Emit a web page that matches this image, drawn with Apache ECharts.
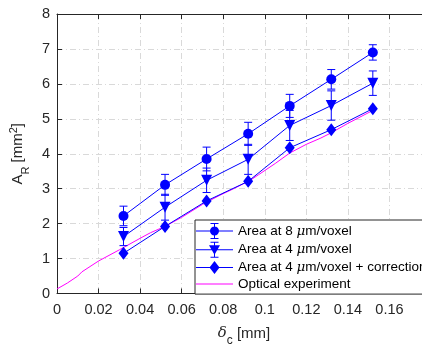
<!DOCTYPE html>
<html>
<head>
<meta charset="utf-8">
<script src="https://cdn.jsdelivr.net/npm/echarts@6/dist/echarts.min.js"></script>
<style>html,body{margin:0;padding:0;background:#fff}#c{width:422px;height:347px}</style>
</head>
<body>
<div id="c"></div>
<script>
// ---- data ----
const xVals = [0.032, 0.052, 0.072, 0.092, 0.112, 0.132, 0.152];
const area8 = [2.22, 3.11, 3.85, 4.57, 5.37, 6.13, 6.90];
const err8 = [0.28, 0.30, 0.34, 0.33, 0.33, 0.28, 0.22];
const area4 = [1.63, 2.47, 3.24, 3.84, 4.81, 5.38, 6.02];
const err4 = [0.26, 0.37, 0.35, 0.43, 0.43, 0.42, 0.35];
const area4c = [1.15, 1.92, 2.65, 3.21, 4.17, 4.69, 5.29];
const opticalX = [0, 0.005, 0.01, 0.012, 0.02, 0.03, 0.04, 0.045, 0.052, 0.06, 0.07, 0.078, 0.085, 0.093, 0.097, 0.105, 0.112, 0.12, 0.127, 0.132, 0.14, 0.152];
const opticalY = [0.13, 0.30, 0.50, 0.62, 0.93, 1.25, 1.58, 1.74, 1.92, 2.18, 2.55, 2.80, 3.00, 3.24, 3.40, 3.72, 4.02, 4.27, 4.45, 4.60, 4.87, 5.24];
const xTickLabels = ['0', '0.02', '0.04', '0.06', '0.08', '0.1', '0.12', '0.14', '0.16'];
const yTickLabels = ['0', '1', '2', '3', '4', '5', '6', '7', '8'];
const seriesNames = ['Area at 8 \u03bcm/voxel', 'Area at 4 \u03bcm/voxel', 'Area at 4 \u03bcm/voxel + correction', 'Optical experiment'];

const BLUE = '#0000ff', MAG = '#ff00ff', AX = '#262626';
const FONT = 'Liberation Sans, Arial, Helvetica, sans-serif';
const seriesColors = [BLUE, BLUE, BLUE, MAG];

function errData(vals, errs) { return xVals.map((x, i) => [x, vals[i] - errs[i], vals[i] + errs[i]]); }
function lineData(vals) { return xVals.map((x, i) => [x, vals[i]]); }

function renderErr(params, api) {
  const x = api.value(0), lo = api.value(1), hi = api.value(2);
  const pt = api.coord([x, hi]), pb = api.coord([x, lo]);
  const w = 4;
  const st = { stroke: BLUE, lineWidth: 1 };
  return { type: 'group', children: [
    { type: 'line', shape: { x1: pt[0], y1: pt[1], x2: pb[0], y2: pb[1] }, style: st },
    { type: 'line', shape: { x1: pt[0] - w, y1: pt[1], x2: pt[0] + w, y2: pt[1] }, style: st },
    { type: 'line', shape: { x1: pb[0] - w, y1: pb[1], x2: pb[0] + w, y2: pb[1] }, style: st }
  ]};
}

const lineRect = 'M0 7.5H37V8.5H0Z';
const errBar = 'M18 0H19V16H18Z M14.5 0H22.5V1H14.5Z M14.5 15H22.5V16H14.5Z';
const icons = [
  'path://' + lineRect + ' ' + errBar + ' M14 8A4.5 4.5 0 1 1 23 8A4.5 4.5 0 1 1 14 8Z',
  'path://' + lineRect + ' ' + errBar + ' M13 3.5H24L18.5 13Z',
  'path://' + lineRect + ' M18.5 1.5L23.5 8L18.5 14.5L13.5 8Z',
  'path://' + lineRect
];

const legendText = n => n.replace('\u03bc', '{i|\u03bc}');
const chart = echarts.init(document.getElementById('c'));
chart.setOption({
  animation: false,
  backgroundColor: '#fff',
  grid: { left: 57, top: 14, width: 374, height: 279.5, show: false, containLabel: false, outerBoundsMode: 'none' },
  xAxis: [{
    type: 'value', min: 0, max: 0.18, interval: 0.02, position: 'bottom',
    axisLine: { show: true, lineStyle: { color: AX, width: 1 } },
    axisTick: { show: true, inside: true, length: 5, lineStyle: { color: AX } },
    axisLabel: { color: AX, fontSize: 14.5, fontFamily: FONT, margin: 9,
      formatter: v => xTickLabels[Math.round(v / 0.02)] || '' },
    splitLine: { show: true, lineStyle: { color: '#d9d9d9', width: 1, type: [6, 3, 1, 3] } },
    name: '{i|\u03b4}{s|c}{n| [mm]}', nameLocation: 'middle', nameGap: 20,
    nameTextStyle: { color: AX, fontFamily: FONT, fontSize: 14, lineHeight: 22,
      rich: { i: { fontSize: 15, fontStyle: 'italic', fontFamily: 'DejaVu Serif, serif', color: AX, verticalAlign: 'middle' },
              s: { fontSize: 12, color: AX, fontFamily: FONT, verticalAlign: 'bottom', lineHeight: 12, padding: [0, 0, -2, 0] },
              n: { fontSize: 15, color: AX, fontFamily: FONT, verticalAlign: 'middle' } } }
  }, {
    type: 'value', min: 0, max: 0.18, interval: 0.02, position: 'top',
    axisLine: { show: true, onZero: false, lineStyle: { color: AX, width: 1 } },
    axisTick: { show: true, inside: true, length: 5, lineStyle: { color: AX } },
    axisLabel: { show: false }, splitLine: { show: false }
  }],
  yAxis: [{
    type: 'value', min: 0, max: 8, interval: 1,
    axisLine: { show: true, lineStyle: { color: AX, width: 1 } },
    axisTick: { show: true, inside: true, length: 5, lineStyle: { color: AX } },
    axisLabel: { color: AX, fontSize: 14.5, fontFamily: FONT, margin: 7,
      formatter: v => yTickLabels[Math.round(v)] },
    splitLine: { show: true, lineStyle: { color: '#d9d9d9', width: 1, type: [6, 3, 1, 3] } },
    name: '{n|A}{s|R}{n| [mm}{p|2}{n|]}', nameLocation: 'middle', nameGap: 24, nameRotate: 90,
    nameTextStyle: { color: AX, fontFamily: FONT, fontSize: 15, lineHeight: 20,
      rich: { n: { fontSize: 15, color: AX, fontFamily: FONT, verticalAlign: 'middle' },
              s: { fontSize: 11, color: AX, fontFamily: FONT, verticalAlign: 'bottom', lineHeight: 11, padding: [0, 0, -3, 0] },
              p: { fontSize: 11, color: AX, fontFamily: FONT, verticalAlign: 'top', lineHeight: 11, padding: [0, 0, 0, 0] } } }
  }],
  legend: {
    orient: 'vertical', left: 195, top: 220, width: 250,
    padding: [3, 30, 3, 1], itemGap: 2.7, itemWidth: 37, itemHeight: 16,
    backgroundColor: '#ffffff', borderColor: AX, borderWidth: 1, borderRadius: 0,
    itemStyle: { borderWidth: 0 },
    textStyle: { color: '#000', fontSize: 13.5, fontFamily: FONT,
      rich: { i: { fontSize: 13.5, fontStyle: 'italic', fontFamily: 'DejaVu Serif, serif', color: '#000' } } },
    formatter: legendText,
    data: seriesNames.map((n, i) => ({ name: n, icon: icons[i], itemStyle: { color: seriesColors[i], borderWidth: 0 } }))
  },
  series: [
    { name: 'err8', type: 'custom', renderItem: renderErr, data: errData(area8, err8), z: 3, silent: true },
    { name: 'err4', type: 'custom', renderItem: renderErr, data: errData(area4, err4), z: 3, silent: true },
    { name: seriesNames[3], type: 'line', data: opticalX.map((x, i) => [x, opticalY[i]]), showSymbol: false,
      lineStyle: { color: MAG, width: 1 }, itemStyle: { color: MAG }, z: 2 },
    { name: seriesNames[0], type: 'line', data: lineData(area8), symbol: 'circle', symbolSize: 10,
      lineStyle: { color: BLUE, width: 1 }, itemStyle: { color: BLUE, borderWidth: 0 }, z: 4 },
    { name: seriesNames[1], type: 'line', data: lineData(area4), symbol: 'triangle', symbolRotate: 180, symbolSize: [11, 11],
      lineStyle: { color: BLUE, width: 1 }, itemStyle: { color: BLUE, borderWidth: 0 }, z: 4 },
    { name: seriesNames[2], type: 'line', data: lineData(area4c), symbol: 'diamond', symbolSize: [10, 13],
      lineStyle: { color: BLUE, width: 1 }, itemStyle: { color: BLUE, borderWidth: 0 }, z: 4 }
  ]
});
</script>
</body>
</html>
